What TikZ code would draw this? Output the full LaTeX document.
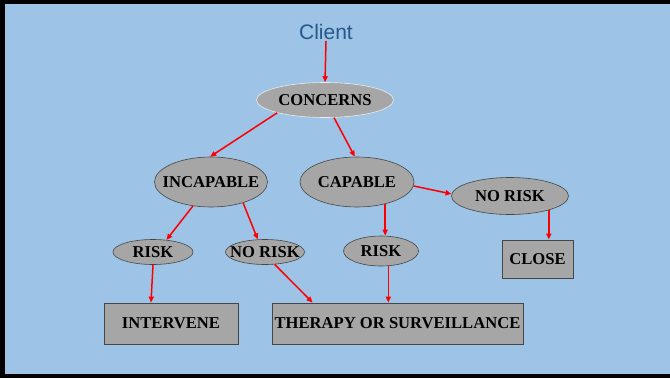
\documentclass[tikz,border=0pt]{standalone}
\usepackage{fontspec}
\setmainfont{Liberation Serif}
\newfontfamily\clientfont{Liberation Sans}
\usetikzlibrary{shapes.geometric,arrows.meta,calc}
\definecolor{bgblue}{RGB}{157,195,230}
\definecolor{nodegray}{RGB}{166,166,166}
\definecolor{edgegray}{RGB}{70,70,70}
\definecolor{clientblue}{RGB}{40,88,138}
\begin{document}
\begin{tikzpicture}[x=1pt,y=-1pt,
  oval/.style={ellipse,draw=edgegray,fill=nodegray,line width=0.6pt,inner xsep=-30pt,inner ysep=-8pt,
    font=\fontsize{16.6}{18}\selectfont\bfseries},
  boxnode/.style={rectangle,draw=edgegray,fill=nodegray,line width=0.8pt,inner sep=0pt,
    font=\fontsize{16.6}{18}\selectfont\bfseries},
  arr/.style={red,line width=1.5pt,-{Triangle[length=6pt,width=5pt]}}]
\useasboundingbox (0,0) rectangle (670,378);
\fill[bgblue] (0,0) rectangle (670,378);
\fill[black] (0,0) rectangle (5,378);
\fill[black] (0,0) rectangle (670,4);
\fill[black] (0,374) rectangle (670,378);
% nodes
\node[font=\clientfont\fontsize{21}{24}\selectfont,text=clientblue,inner sep=1pt] (cl) at (326,32) {Client};
\node[oval,draw=white!85!gray,minimum width=137pt,minimum height=35pt] (con) at (325,100) {CONCERNS};
\node[oval,minimum width=113pt,minimum height=50pt] (inc) at (211,182) {INCAPABLE};
\node[oval,minimum width=114pt,minimum height=50pt] (cap) at (357,182) {CAPABLE};
\node[oval,minimum width=117pt,minimum height=37pt] (nr2) at (510,196) {NO RISK};
\node[oval,minimum width=80pt,minimum height=25pt] (rk1) at (153,252) {RISK};
\node[oval,minimum width=79pt,minimum height=25pt] (nr1) at (265,252) {NO RISK};
\node[oval,minimum width=75pt,minimum height=30pt] (rk2) at (381,251) {RISK};
\node[boxnode,minimum width=71pt,minimum height=38pt] (close) at (537.5,259) {CLOSE};
\node[boxnode,minimum width=134pt,minimum height=41pt] (int) at (171,323.5) {INTERVENE};
\node[boxnode,minimum width=251pt,minimum height=41pt] (ther) at (397.5,323.5) {THERAPY OR SURVEILLANCE};
% connectors
\draw[arr] (cl.south) -- (con.north);
\draw[arr] (con.-165) -- (inc.92);
\draw[arr] (con.-63) -- (cap.95);
\draw[arr] (inc.-127) -- (rk1.42);
\draw[arr] (inc.-33) -- (nr1.120);
\draw[arr] (cap.-38) -- (cap.-38 |- rk2.north);
\draw[arr] (cap.-4) -- (nr2.178);
\draw[arr] (nr2.-20) -- (nr2.-20 |- close.north);
\draw[arr] (rk1.south) -- ($(rk1.south |- int.north)+(-2,0)$);
\draw[arr] (nr1.-52) -- ($(ther.north west)+(41,0)$);
\draw[arr] (rk2.-64) -- (rk2.-64 |- ther.north);
\end{tikzpicture}
\end{document}
